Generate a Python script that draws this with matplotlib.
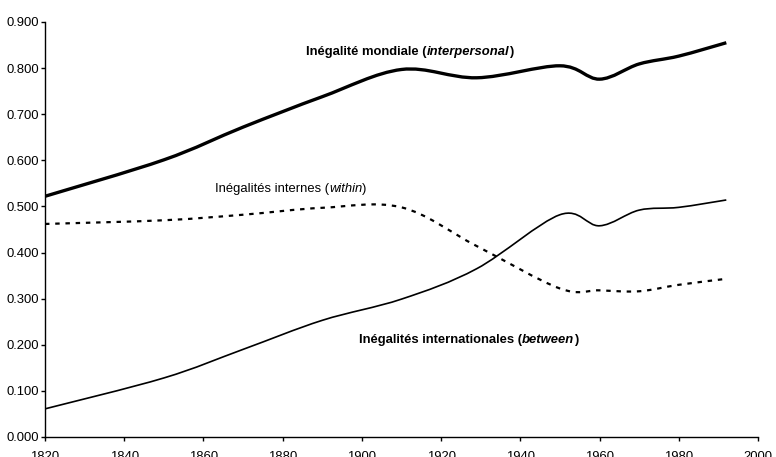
import matplotlib.pyplot as plt
from matplotlib.path import Path
from matplotlib.patches import PathPatch

plt.rcParams['font.family'] = ['Liberation Sans', 'DejaVu Sans']
plt.rcParams['font.size'] = 9.4

# data
years = [1820, 1850, 1870, 1890, 1910, 1929, 1950, 1960, 1970, 1980, 1992]
mondial = [0.522, 0.601, 0.672, 0.738, 0.797, 0.779, 0.805, 0.776, 0.809, 0.826, 0.855]
internes = [0.462, 0.470, 0.482, 0.497, 0.498, 0.414, 0.322, 0.318, 0.316, 0.330, 0.343]
internationales = [0.061, 0.128, 0.190, 0.253, 0.299, 0.365, 0.482, 0.458, 0.492, 0.498, 0.514]

x_ticks = [1820, 1840, 1860, 1880, 1900, 1920, 1940, 1960, 1980, 2000]
y_ticks = [0.0, 0.1, 0.2, 0.3, 0.4, 0.5, 0.6, 0.7, 0.8, 0.9]


def smooth_path(xs, ys):
  # Excel-like smoothed line: bezier segments through every point
  pts = list(zip(xs, ys))
  n = len(pts)
  verts = [pts[0]]
  codes = [Path.MOVETO]
  for i in range(n - 1):
    p0 = pts[max(i - 1, 0)]
    p1 = pts[i]
    p2 = pts[i + 1]
    p3 = pts[min(i + 2, n - 1)]
    c1 = (p1[0] + (p2[0] - p0[0]) / 6, p1[1] + (p2[1] - p0[1]) / 6)
    c2 = (p2[0] - (p3[0] - p1[0]) / 6, p2[1] - (p3[1] - p1[1]) / 6)
    verts += [c1, c2, p2]
    codes += [Path.CURVE4] * 3
  return Path(verts, codes)


fig = plt.figure(figsize=(7.76, 4.57), dpi=100)
ax = fig.add_axes([0.058, 0.0438, 0.9188, 0.9081])

ax.add_patch(PathPatch(smooth_path(years, mondial), fill=False, lw=2.4,
                       color='black', capstyle='butt'))
ax.add_patch(PathPatch(smooth_path(years, internationales), fill=False, lw=1.2,
                       color='black'))
ax.add_patch(PathPatch(smooth_path(years, internes), fill=False, lw=1.6,
                       color='black', linestyle=(0, (2, 2.6))))

ax.set_xlim(1820, 2000)
ax.set_ylim(0, 0.9)
ax.set_xticks(x_ticks)
ax.set_yticks(y_ticks)
ax.set_yticklabels([f"{v:.3f}" for v in y_ticks])
ax.tick_params(direction='out', length=3, width=1, pad=1.2, labelsize=9.4)
ax.tick_params(axis='x', pad=7)
for side in ['top', 'right']:
  ax.spines[side].set_visible(False)
for side in ['left', 'bottom']:
  ax.spines[side].set_linewidth(1)


def mixed_label(x, y, parts, weight):
  prev = ax.text(x, y, parts[0][0], fontstyle=parts[0][1], fontweight=weight,
                 va='baseline', ha='left')
  for txt, style in parts[1:]:
    prev = ax.annotate(txt, xy=(1, 0), xycoords=prev, va='bottom', ha='left',
                       fontstyle=style, fontweight=weight)


mixed_label(1885.9, 0.829, [("Inégalité mondiale (", 'normal'),
                            ("interpersonal", 'italic'), (")", 'normal')], 'bold')
mixed_label(1862.9, 0.531, [("Inégalités internes (", 'normal'),
                            ("within", 'italic'), (")", 'normal')], 'normal')
mixed_label(1899.3, 0.204, [("Inégalités internationales (", 'normal'),
                            ("between", 'italic'), (")", 'normal')], 'bold')

fig.savefig("out.png", dpi=100)
